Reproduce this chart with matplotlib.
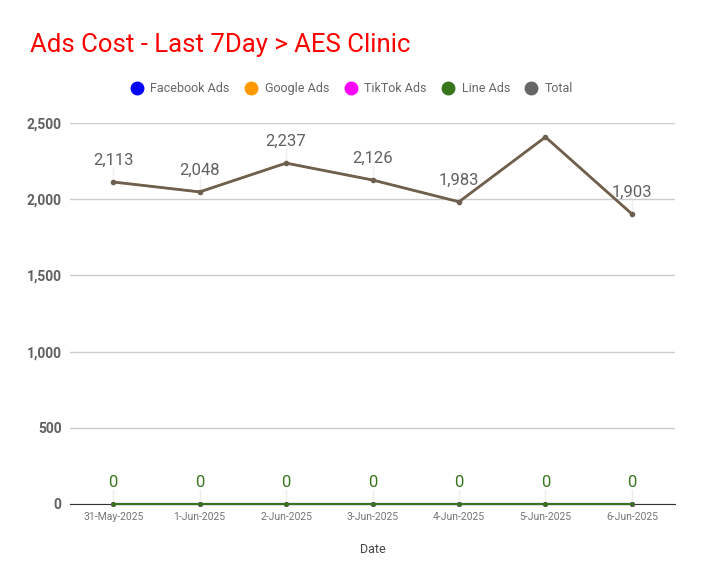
import numpy as np
import matplotlib.pyplot as plt
from matplotlib.lines import Line2D

plt.rcParams['font.family'] = ['Roboto', 'DejaVu Sans']

dates = ["31-May-2025", "1-Jun-2025", "2-Jun-2025", "3-Jun-2025",
         "4-Jun-2025", "5-Jun-2025", "6-Jun-2025"]
facebook = [0, 0, 0, 0, 0, 0, 0]
google = [2113, 2048, 2237, 2126, 1983, 2408, 1903]
tiktok = [0, 0, 0, 0, 0, 0, 0]
line_ads = [0, 0, 0, 0, 0, 0, 0]
total = [2113, 2048, 2237, 2126, 1983, 2408, 1903]
total_labels = ["2,113", "2,048", "2,237", "2,126", "1,983", "", "1,903"]

series = [
    ("Facebook Ads", facebook, "#0000ff"),
    ("Google Ads", google, "#ff9900"),
    ("TikTok Ads", tiktok, "#ff00ff"),
    ("Line Ads", line_ads, "#38761d"),
    ("Total", total, "#666666"),
]

fig = plt.figure(figsize=(7.04, 5.85), dpi=100)
ax = fig.add_axes([0.0994, 0.1385, 0.8596, 0.6512])

x = np.arange(len(dates))
for name, vals, col in series:
    if name == "Total":
        ax.plot(x, vals, color="#6e6050", lw=2, marker="o", ms=3, zorder=4)
    elif name == "Line Ads":
        ax.plot(x, vals, color=col, lw=1.5, marker="o", ms=2.5, zorder=3.5,
                clip_on=False)
    else:
        ax.plot(x, vals, color=col, lw=1.5, marker="o", ms=2.5, zorder=3,
                clip_on=False)

# data labels with leader lines
for xi, v, lab in zip(x, total, total_labels):
    if lab:
        ax.plot([xi, xi], [v + 20, v + 95], color="#eeeeee", lw=1, zorder=2)
        ax.text(xi, v + 95, lab, ha="center", va="bottom", fontsize=12,
                color="#616161")
for xi, v in zip(x, line_ads):
    ax.plot([xi, xi], [v + 10, v + 95], color="#eeeeee", lw=1, zorder=2)
    ax.text(xi, v + 95, "0", ha="center", va="bottom", fontsize=12,
            color="#38761d")

ax.set_xlim(-0.5, len(dates) - 0.5)
ax.set_ylim(0, 2500)
ax.set_yticks([0, 500, 1000, 1500, 2000, 2500])
ax.set_yticklabels(["0", "500", "1,000", "1,500", "2,000", "2,500"],
                   fontsize=10, color="#616161", fontweight="bold")
ax.set_xticks(x)
ax.set_xticklabels(dates, fontsize=7.5, color="#757575")
ax.tick_params(axis="both", length=0, pad=6)
ax.grid(axis="y", color="#cccccc", lw=1)
ax.set_axisbelow(True)
for s in ["top", "right", "left"]:
    ax.spines[s].set_visible(False)
ax.spines["bottom"].set_color("#333333")
ax.spines["bottom"].set_zorder(1)
ax.set_xlabel("Date", fontsize=9, color="#444444", labelpad=15)

handles = [Line2D([], [], ls="none", marker="o", ms=9, color=c) for _, _, c in series]
fig.legend(handles, [n for n, _, _ in series], loc="center", ncol=5,
           bbox_to_anchor=(0.5, 0.848), frameon=False, fontsize=9,
           labelcolor="#666666", handlelength=1.0, handletextpad=0.6,
           columnspacing=1.2)

fig.text(0.042, 0.923, "Ads Cost - Last 7Day > AES Clinic", fontsize=18.5,
         color="#ff0000", ha="left", va="center")

fig.savefig("out.png", dpi=100)
